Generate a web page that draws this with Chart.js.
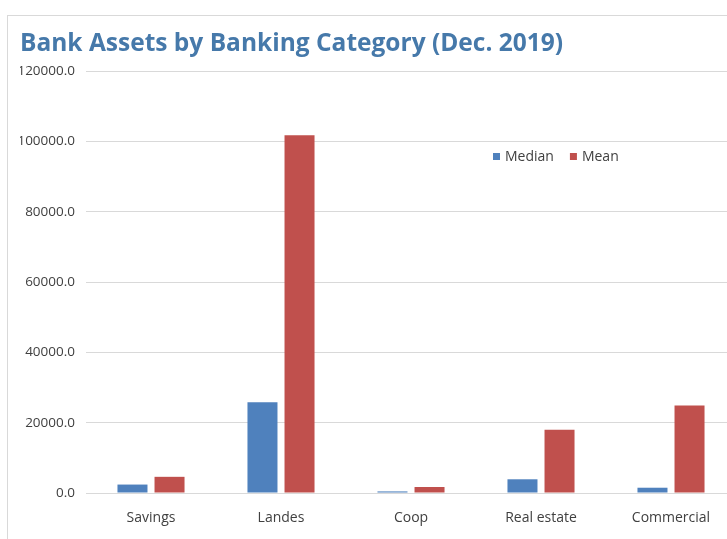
<!DOCTYPE html>
<html>
<head>
<meta charset="utf-8">
<script src="https://cdn.jsdelivr.net/npm/chart.js@4"></script>
<style>
  html, body { margin: 0; padding: 0; background: #fff; overflow: hidden; }
  #frame {
    position: absolute; left: 7px; top: 15px;
    width: 760px; height: 540px;
    border-left: 1px solid #d9d9d9; border-top: 1px solid #d9d9d9;
  }
  #wrap { position: absolute; left: 0; top: 0; width: 728px; height: 524px; }
</style>
</head>
<body>
<div id="frame"><div id="wrap"><canvas id="chart"></canvas></div></div>
<script>
// data
const categories = ['Savings', 'Landes', 'Coop', 'Real estate', 'Commercial'];
const medianValues = [2400, 25800, 450, 3900, 1500];
const meanValues = [4600, 101700, 1700, 18000, 24900];
const yTicks = [0, 20000, 40000, 60000, 80000, 100000, 120000];

// legend drawn inside the plot, near the top right
const innerLegend = {
  id: 'innerLegend',
  afterDraw(chart) {
    const c = chart.ctx;
    const a = chart.chartArea;
    let x = a.left + 407;
    const y = a.top + 86;
    c.save();
    c.font = '14px "Open Sans", sans-serif';
    c.textBaseline = 'middle';
    chart.data.datasets.forEach(ds => {
      c.fillStyle = ds.backgroundColor;
      c.fillRect(x, y - 4, 7, 7);
      c.fillStyle = '#404040';
      c.fillText(ds.label, x + 12, y);
      x += 12 + c.measureText(ds.label).width + 16;
    });
    c.restore();
  }
};

const ctx = document.getElementById('chart');

new Chart(ctx, {
  type: 'bar',
  data: {
    labels: categories,
    datasets: [
      { label: 'Median', data: medianValues, backgroundColor: '#4F81BD' },
      { label: 'Mean', data: meanValues, backgroundColor: '#C0504D' }
    ]
  },
  plugins: [innerLegend],
  options: {
    responsive: true,
    maintainAspectRatio: false,
    animation: false,
    layout: { padding: { left: 12, top: 13, right: 0, bottom: 0 } },
    datasets: { bar: { categoryPercentage: 0.57, barPercentage: 0.81 } },
    plugins: {
      legend: { display: false },
      tooltip: { enabled: false },
      title: {
        display: true,
        text: 'Bank Assets by Banking Category (Dec. 2019)',
        align: 'start',
        color: '#4679aa',
        font: { family: '"Open Sans", sans-serif', size: 24.5, weight: 'bold' },
        padding: { top: 0, bottom: 12.6 }
      }
    },
    scales: {
      x: {
        grid: { display: false, drawTicks: false },
        border: { display: false },
        ticks: { color: '#404040', font: { family: '"Open Sans", sans-serif', size: 14 }, padding: 17 },
        afterFit(scale) { scale.height = 47; }
      },
      y: {
        min: 0,
        max: 120000,
        afterBuildTicks(scale) { scale.ticks = yTicks.map(v => ({ value: v })); },
        grid: { color: '#d9d9d9', drawTicks: false },
        border: { display: false },
        ticks: {
          color: '#404040',
          font: { family: '"Open Sans", sans-serif', size: 13.5 },
          padding: 11,
          callback: v => v.toFixed(1)
        },
        afterFit(scale) { scale.width = 66; }
      }
    }
  }
});
</script>
</body>
</html>
